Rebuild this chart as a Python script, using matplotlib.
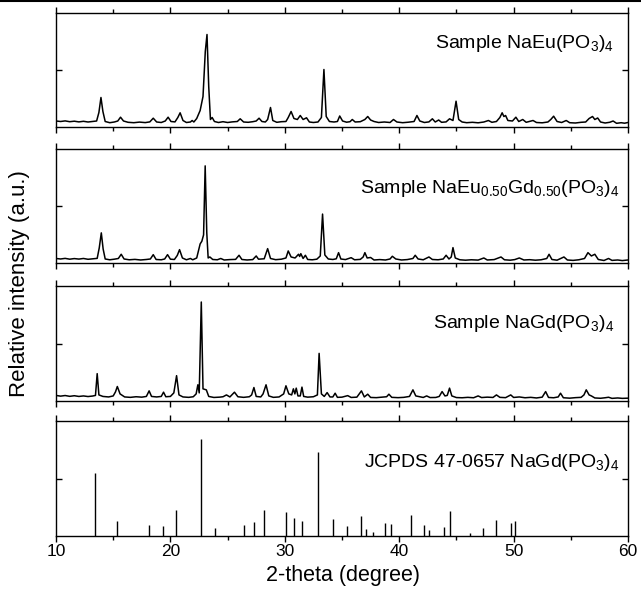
import numpy as np
import matplotlib
matplotlib.use("Agg")
import matplotlib.pyplot as plt
from matplotlib.lines import Line2D

plt.rcParams["font.family"] = ["Liberation Sans", "DejaVu Sans"]
plt.rcParams["mathtext.fontset"] = "custom"
plt.rcParams["mathtext.rm"] = "Liberation Sans"
plt.rcParams["mathtext.it"] = "Liberation Sans:italic"

# XRD patterns: (2-theta, intensity a.u.)
naeu_pts = [
    (10.0, 5.5), (10.4, 5.0), (10.8, 5.6), (11.2, 4.8), (11.6, 5.3), (12.0, 4.6), (12.4, 5.2),
    (12.8, 4.5), (13.2, 5.0), (13.55, 5.5), (13.75, 14), (13.93, 29), (14.1, 15), (14.3, 5),
    (14.7, 3.8), (15.1, 4.5), (15.4, 5.5), (15.64, 9.3), (15.9, 5.5), (16.3, 4.2), (16.8, 3.8),
    (17.3, 4.4), (17.8, 3.9), (18.2, 4.6), (18.5, 8.3), (18.8, 4.5), (19.2, 4.0), (19.55, 5.5),
    (19.8, 9.3), (20.05, 5), (20.4, 4.6), (20.65, 9), (20.85, 13.7), (21.1, 6), (21.4, 4),
    (21.75, 4.5), (21.9, 6), (22.05, 4.5), (22.3, 8), (22.6, 16), (22.85, 30), (23.05, 75),
    (23.2, 92), (23.35, 40), (23.5, 7), (23.65, 9), (23.85, 5), (24.2, 4), (24.6, 4.8),
    (25.0, 4), (25.4, 4.6), (25.85, 5), (26.1, 7.7), (26.4, 4.5), (26.8, 4.2), (27.2, 4.8),
    (27.5, 5.5), (27.75, 8.3), (28.0, 5), (28.3, 4.5), (28.5, 7), (28.75, 19), (28.95, 6),
    (29.3, 4.2), (29.7, 4.8), (30.1, 5), (30.3, 9), (30.55, 15), (30.8, 8), (31.1, 7),
    (31.35, 11), (31.6, 7), (31.9, 8.7), (32.15, 4.5), (32.5, 4), (32.9, 4.5), (33.2, 9),
    (33.42, 57), (33.62, 10), (33.9, 5), (34.3, 4.5), (34.6, 5), (34.8, 10.5), (35.05, 5.5),
    (35.4, 4.3), (35.7, 4.8), (35.9, 7), (36.15, 4.5), (36.6, 4.8), (37.0, 7), (37.25, 10),
    (37.5, 6.5), (37.8, 5), (38.2, 4), (38.7, 4.5), (39.2, 4), (39.5, 7), (39.8, 4.5),
    (40.3, 3.8), (40.8, 4.3), (41.3, 5), (41.55, 11), (41.8, 5.5), (42.2, 4), (42.6, 4.6),
    (42.9, 7.7), (43.15, 4.5), (43.45, 6.5), (43.7, 4.2), (44.1, 4.6), (44.4, 7.7), (44.7, 6),
    (44.97, 25.3), (45.2, 7), (45.5, 4.5), (45.9, 3.8), (46.4, 4.2), (46.9, 3.7), (47.4, 4.5),
    (47.8, 6), (48.1, 4.2), (48.5, 5), (48.8, 9), (49.0, 13.7), (49.15, 10), (49.3, 11),
    (49.5, 6), (49.9, 5.5), (50.2, 9.3), (50.45, 5), (50.8, 7), (51.1, 4.2), (51.7, 6),
    (52.0, 4), (52.5, 3.7), (53.0, 4.5), (53.25, 7), (53.5, 10.3), (53.8, 5), (54.2, 4),
    (54.6, 6), (54.9, 3.8), (55.4, 3.5), (55.9, 4.2), (56.3, 4.5), (56.6, 8), (56.9, 10),
    (57.1, 7), (57.35, 8.5), (57.6, 4.5), (58.0, 3.5), (58.4, 4.2), (58.7, 5.5), (59.0, 3.2),
    (59.4, 3.8), (59.7, 3.3), (60.0, 4),
]

naeugd_pts = [
    (10.0, 4.5), (10.4, 4.0), (10.8, 4.6), (11.2, 3.8), (11.6, 4.4), (12.0, 3.9), (12.4, 4.5),
    (12.8, 3.7), (13.2, 4.2), (13.6, 4.6), (13.78, 15), (13.96, 30), (14.12, 14), (14.3, 4),
    (14.7, 3.2), (15.1, 3.8), (15.45, 4.5), (15.7, 8.7), (15.95, 4), (16.4, 3.2), (16.9, 3.6),
    (17.4, 3), (17.9, 3.5), (18.25, 4), (18.5, 8.3), (18.75, 3.5), (19.2, 3.2), (19.5, 4),
    (19.75, 8.3), (20.0, 3.8), (20.35, 3.5), (20.6, 7.5), (20.8, 13.3), (21.05, 5), (21.4, 3.2),
    (21.75, 4.5), (21.95, 3.2), (22.3, 5), (22.6, 19), (22.75, 21.7), (22.9, 28), (23.04, 96.7),
    (23.18, 30), (23.3, 5), (23.45, 6), (23.7, 3.5), (24.1, 3.2), (24.4, 4.5), (24.7, 3),
    (25.2, 3.4), (25.7, 3.6), (26.0, 7.7), (26.25, 3.5), (26.7, 3), (27.2, 3.4), (27.5, 7),
    (27.7, 3.8), (28.2, 4.2), (28.5, 14.3), (28.75, 4.5), (29.2, 3.3), (29.7, 3.8), (30.1, 5),
    (30.3, 12), (30.55, 6), (30.9, 5), (31.2, 8.7), (31.3, 6.5), (31.4, 9.3), (31.6, 4.5),
    (31.8, 7.7), (32.0, 3.5), (32.4, 3.2), (32.8, 3.8), (33.1, 7), (33.3, 48.7), (33.5, 8),
    (33.8, 4), (34.2, 3.5), (34.5, 4.2), (34.7, 10.3), (34.9, 4), (35.3, 3.4), (35.8, 5.3),
    (36.1, 3.2), (36.6, 3.6), (36.85, 6), (37.0, 10.3), (37.2, 5), (37.5, 5.5), (37.8, 3),
    (38.3, 3.4), (38.8, 3), (39.2, 4), (39.4, 6.7), (39.7, 4), (40.2, 3), (40.7, 3.4),
    (41.2, 4.5), (41.4, 7.7), (41.65, 4), (42.1, 3.2), (42.6, 6), (42.9, 3.5), (43.4, 3.2),
    (43.85, 4), (44.1, 7.7), (44.35, 4), (44.55, 6), (44.7, 15.3), (44.9, 5), (45.3, 3.2),
    (45.8, 2.8), (46.3, 3.2), (46.9, 2.9), (47.4, 5), (47.7, 3), (48.3, 3.4), (48.9, 6),
    (49.2, 3.2), (49.7, 2.8), (50.1, 3.4), (50.5, 5), (50.9, 3), (51.4, 3.3), (51.9, 2.8),
    (52.4, 3.2), (52.9, 4.5), (53.1, 8.7), (53.35, 3.5), (53.8, 2.8), (54.4, 6), (54.7, 3),
    (55.2, 2.6), (55.7, 3.2), (56.2, 4.5), (56.5, 10.3), (56.8, 7), (57.1, 8.7), (57.4, 3.5),
    (57.9, 2.5), (58.3, 4.5), (58.6, 2.6), (59.1, 3), (59.5, 2.4), (60.0, 3),
]

nagd_pts = [
    (10.0, 5.5), (10.4, 4.8), (10.8, 5.4), (11.2, 4.6), (11.6, 5.2), (12.0, 4.5), (12.4, 5.0),
    (12.8, 4.4), (13.2, 4.9), (13.45, 5.5), (13.6, 27), (13.75, 6), (14.1, 4.5), (14.6, 4),
    (15.0, 5), (15.2, 9), (15.36, 14.3), (15.6, 7), (16.0, 4), (16.5, 3.6), (17.0, 4.2),
    (17.5, 3.8), (17.9, 4.5), (18.14, 10), (18.35, 4.5), (18.8, 4), (19.2, 4.5), (19.4, 8.7),
    (19.6, 4.2), (20.0, 4.5), (20.3, 8), (20.54, 25), (20.75, 6), (21.1, 4), (21.6, 3.6),
    (22.0, 4.2), (22.25, 7), (22.4, 16), (22.52, 8), (22.7, 97.7), (22.85, 12), (23.14, 11),
    (23.35, 4.5), (23.8, 3.5), (24.3, 3.8), (24.6, 4.2), (24.9, 6), (25.2, 4), (25.6, 8.7),
    (25.9, 4.2), (26.4, 3.6), (26.9, 4.2), (27.1, 6), (27.3, 13.3), (27.5, 4.5), (27.9, 4),
    (28.1, 7), (28.36, 16), (28.6, 5), (29.0, 3.6), (29.5, 4), (29.9, 7), (30.1, 15),
    (30.35, 7), (30.6, 6), (30.75, 12), (30.88, 7), (31.0, 12.7), (31.15, 5), (31.35, 5),
    (31.5, 13.7), (31.65, 4.5), (32.0, 3.8), (32.5, 4.2), (32.85, 6), (33.0, 47), (33.2, 7),
    (33.45, 4.5), (33.7, 8.3), (33.95, 4), (34.2, 4), (34.4, 7.7), (34.6, 3.6), (35.0, 3.8),
    (35.5, 5.3), (35.8, 3.5), (36.3, 3.8), (36.7, 10), (36.95, 4), (37.25, 6.7), (37.5, 3.5),
    (38.0, 3.3), (38.5, 3.8), (38.9, 4.2), (39.1, 6.7), (39.35, 3.6), (39.9, 3.3), (40.4, 3.6),
    (40.9, 4.5), (41.2, 11), (41.45, 5), (41.8, 4.2), (42.1, 3.5), (42.4, 5), (42.7, 3.4),
    (43.2, 3.5), (43.5, 4.5), (43.75, 9.3), (44.0, 5), (44.2, 5.5), (44.4, 12.7), (44.6, 5),
    (45.0, 3.4), (45.5, 3.2), (46.0, 3.6), (46.5, 3.2), (46.9, 5), (47.2, 3.4), (47.7, 3.8),
    (48.2, 3.5), (48.5, 6), (48.8, 3.6), (49.3, 3.3), (49.75, 6), (50.0, 3.5), (50.5, 4),
    (51.0, 3.2), (51.5, 3.6), (52.0, 3.0), (52.5, 3.8), (52.8, 9.3), (53.05, 3.5), (53.5, 3.2),
    (53.9, 4), (54.1, 7.7), (54.35, 3.2), (54.9, 2.8), (55.4, 3.3), (55.9, 3.6), (56.15, 6),
    (56.35, 11), (56.6, 6), (56.8, 5), (57.1, 3), (57.6, 2.7), (58.0, 3.2), (58.3, 3.7),
    (58.6, 2.6), (59.1, 3), (59.5, 2.6), (60.0, 2.8),
]

# JCPDS 47-0657 reference lines
jcpds_pos = [13.43, 15.36, 18.14, 19.32, 20.46, 22.68, 23.86, 26.4, 27.3, 28.14, 30.07, 30.8,
             31.46, 32.9, 34.2, 35.46, 36.68, 37.14, 37.75, 38.8, 39.3, 41.0, 42.2, 42.6,
             43.9, 44.4, 46.2, 47.3, 48.5, 49.75, 50.1]
jcpds_int = [62, 15, 11, 10, 26, 96, 7.7, 11, 14, 26, 23.7, 18, 15, 82.7, 17, 10, 20, 7.3,
             4.3, 13, 12, 20.7, 11, 5.7, 9, 25, 3.3, 8.3, 16, 13, 15]

labels = [r"Sample NaEu(PO$_3$)$_4$",
          r"Sample NaEu$_{0.50}$Gd$_{0.50}$(PO$_3$)$_4$",
          r"Sample NaGd(PO$_3$)$_4$",
          r"JCPDS 47-0657 NaGd(PO$_3$)$_4$"]

W, H = 641, 601
fig = plt.figure(figsize=(W / 100, H / 100), dpi=100)

# panel rows in pixels (top, bottom)
rows = [(13, 126.5), (149, 263), (286, 401), (421, 536)]
text_pos = [(0.976, 0.735), (0.985, 0.655), (0.976, 0.672), (0.985, 0.64)]
left, right = 56, 628

axes = []
for (top, bot) in rows:
    ax = fig.add_axes([left / W, 1 - bot / H, (right - left) / W, (bot - top) / H])
    axes.append(ax)

for ax, pts in zip(axes[:3], [naeu_pts, naeugd_pts, nagd_pts]):
    xy = np.array(pts)
    ax.plot(xy[:, 0], xy[:, 1], color="black", lw=1.1)

axes[3].vlines(jcpds_pos, 0, jcpds_int, color="black", lw=1.0)

for i, ax in enumerate(axes):
    ax.set_xlim(10, 60)
    ax.set_ylim(0, 113.5)
    ax.set_xticks(np.arange(10, 61, 10))
    ax.set_xticks(np.arange(15, 60, 10), minor=True)
    ax.set_yticks([56.75])
    ax.set_yticklabels([])
    ax.tick_params(axis="x", which="both", direction="out", top=True, bottom=True,
                   width=1.0, labelsize=12.5, pad=2)
    ax.tick_params(axis="x", which="major", length=4)
    ax.tick_params(axis="x", which="minor", length=3)
    ax.tick_params(axis="y", direction="in", left=True, right=True, length=4, width=1.0)
    for s in ax.spines.values():
        s.set_linewidth(1.0)
    if i < 3:
        ax.set_xticklabels([])
    tx, ty = text_pos[i]
    ax.text(tx, ty, labels[i], transform=ax.transAxes, ha="right", va="center",
            fontsize=14)

fig.text((262 + 423) / 2 / W, 1 - 575 / H, "2-theta (degree)",
         ha="center", va="center", fontsize=15.5)
fig.text(20 / W, 1 - 284 / H, "Relative intensity (a.u.)", rotation=90,
         ha="center", va="center", fontsize=16)

# thin rule across the very top of the picture
fig.add_artist(Line2D([0, 1], [1 - 0.8 / H, 1 - 0.8 / H], color="black", lw=1.5))

fig.savefig("out.png", dpi=100)
